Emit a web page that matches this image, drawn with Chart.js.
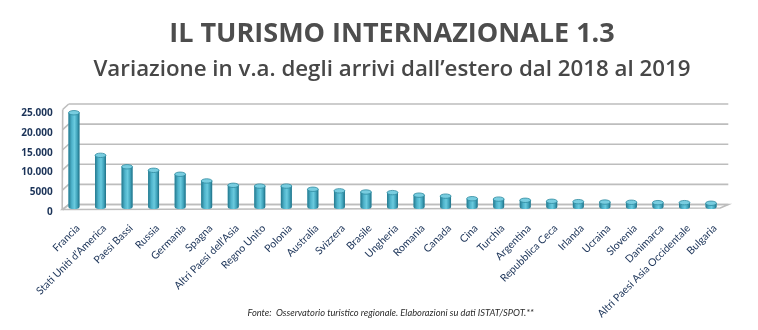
<!DOCTYPE html>
<html>
<head>
<meta charset="utf-8">
<script src="https://cdn.jsdelivr.net/npm/chart.js@4/dist/chart.umd.min.js"></script>
<style>
  body { margin: 0; background: #fff; }
  #wrap { position: relative; width: 758px; height: 330px; overflow: hidden; }
  #wrap canvas { position: absolute; left: 0; top: 0; }
  .head {
    position: absolute; left: 0; width: 784px; margin: 0;
    text-align: center; font-family: 'Open Sans', sans-serif; white-space: nowrap;
  }
  #titolo { top: 15.5px; font-size: 27px; font-weight: 700; line-height: 32px; color: #4d4d4d; }
  #sottotitolo { top: 54px; font-size: 22.3px; font-weight: 600; line-height: 27px; color: #474747; }
  #fonte {
    position: absolute; left: 0; width: 781px; top: 307px;
    text-align: center; font: italic 9.3px Lato, sans-serif; color: #2b2b2b;
  }
</style>
</head>
<body>
<div id="wrap">
  <canvas id="js--chart--1" width="758" height="330"></canvas>
  <h1 class="head" id="titolo">IL TURISMO INTERNAZIONALE 1.3</h1>
  <h2 class="head" id="sottotitolo">Variazione in v.a. degli arrivi dall’estero dal 2018 al 2019</h2>
  <div id="fonte">Fonte:&nbsp; Osservatorio turistico regionale. Elaborazioni su dati ISTAT/SPOT.**</div>
</div>
<script>
const paesi = [
    "Francia", "Stati Uniti d\u2019America", "Paesi Bassi", "Russia", "Germania",
    "Spagna", "Altri Paesi dell\u2019Asia", "Regno Unito", "Polonia", "Australia",
    "Svizzera", "Brasile", "Ungheria", "Romania", "Canada",
    "Cina", "Turchia", "Argentina", "Repubblica Ceca", "Irlanda",
    "Ucraina", "Slovenia", "Danimarca", "Altri Paesi Asia Occidentale", "Bulgaria",
];

const variazione = [
    23900, 13100, 10200, 9300, 8300,
    6600, 5500, 5300, 5300, 4500,
    4100, 3800, 3650, 3000, 2750,
    2100, 2000, 1700, 1450, 1350,
    1250, 1200, 1100, 1100, 950,
];

const yTicks = [0, 5000, 10000, 15000, 20000, 25000];
const yTickLabels = ["0", "5000", "10.000", "15.000", "20.000", "25.000"];

const navy = '#1b3358';

// back wall, floor and left wall of the pseudo-3D box
const box3d = {
    id: 'box3d',
    beforeDatasetsDraw(chart) {
        const {ctx, chartArea: a, scales: {y}} = chart;
        const back = v => {
            const py = y.getPixelForValue(v);
            return py - 2.5 - (a.bottom - py) * 0.019;
        };
        ctx.save();
        ctx.strokeStyle = '#bdbdbd';
        ctx.lineWidth = 1.6;
        // floor
        ctx.beginPath();
        ctx.moveTo(a.left + 1.5, a.bottom + 2.5);
        ctx.lineTo(a.right - 4, a.bottom + 1);
        ctx.lineTo(a.right + 4, back(0));
        ctx.lineTo(a.left + 8, back(0));
        ctx.closePath();
        ctx.stroke();
        // gridlines on the back wall
        yTicks.forEach(v => {
            const by = back(v);
            ctx.beginPath();
            ctx.moveTo(a.left + 8, by);
            ctx.lineTo(a.right + 4, by);
            ctx.stroke();
            // slanted marks on the left wall
            ctx.beginPath();
            ctx.moveTo(a.left + 2, by + 5.5);
            ctx.lineTo(a.left + 8, by);
            ctx.stroke();
        });
        ctx.beginPath();
        ctx.moveTo(a.left + 2, back(25000) + 5.5);
        ctx.lineTo(a.left + 1.5, a.bottom + 2.5);
        ctx.stroke();
        ctx.restore();
    }
};

// cylinder shading and caps over each bar
const cylinders = {
    id: 'cylinders',
    afterDatasetsDraw(chart) {
        const ctx = chart.ctx;
        chart.getDatasetMeta(0).data.forEach(bar => {
            const w = bar.width, l = bar.x - w / 2, r = bar.x + w / 2;
            const g = ctx.createLinearGradient(l, 0, r, 0);
            g.addColorStop(0, '#23788d');
            g.addColorStop(0.3, '#4eb3cb');
            g.addColorStop(0.55, '#6acade');
            g.addColorStop(0.8, '#3fa2ba');
            g.addColorStop(1, '#1f6f84');
            ctx.save();
            ctx.fillStyle = g;
            ctx.beginPath();
            ctx.moveTo(l, bar.y);
            ctx.lineTo(l, bar.base);
            ctx.ellipse(bar.x, bar.base, w / 2, 2, 0, Math.PI, 0, true);
            ctx.lineTo(r, bar.y);
            ctx.closePath();
            ctx.fill();
            ctx.beginPath();
            ctx.ellipse(bar.x, bar.y, w / 2, 2.2, 0, 0, Math.PI * 2);
            ctx.fillStyle = '#78cde0';
            ctx.fill();
            ctx.strokeStyle = '#2f8aa0';
            ctx.lineWidth = 0.8;
            ctx.stroke();
            ctx.restore();
        });
    }
};

const data = {
    labels: paesi,
    datasets: [
        {
            label: "Variazione",
            data: variazione,
            backgroundColor: '#4bacc6',
            borderWidth: 0,
            categoryPercentage: 1,
            barPercentage: 0.41,
        }
    ]
};

const config = {
    type: 'bar',
    data: data,
    plugins: [box3d, cylinders],
    options: {
        responsive: false,
        animation: false,
        layout: { padding: { left: 10.7, right: 33.7, top: 108.4, bottom: 10 } },
        plugins: {
            legend: { display: false },
            tooltip: { enabled: false },
        },
        scales: {
            x: {
                grid: { display: false, drawTicks: false },
                border: { display: false },
                afterFit: s => { s.height = 113; },
                ticks: {
                    autoSkip: false,
                    minRotation: 45,
                    maxRotation: 45,
                    padding: 15,
                    labelOffset: 4,
                    color: navy,
                    font: { family: 'Lato', size: 10.5 },
                },
            },
            y: {
                min: 0,
                max: 25000,
                grid: { display: false, drawTicks: false },
                border: { display: false },
                afterFit: s => { s.width = 50; },
                afterBuildTicks: s => { s.ticks = yTicks.map(v => ({value: v})); },
                ticks: {
                    padding: 8,
                    labelOffset: 5,
                    color: navy,
                    font: { family: 'Open Sans', size: 10, weight: 'bold' },
                    callback: (v, i) => yTickLabels[i],
                },
            },
        },
    },
};

new Chart(document.getElementById("js--chart--1"), config);
</script>
</body>
</html>
